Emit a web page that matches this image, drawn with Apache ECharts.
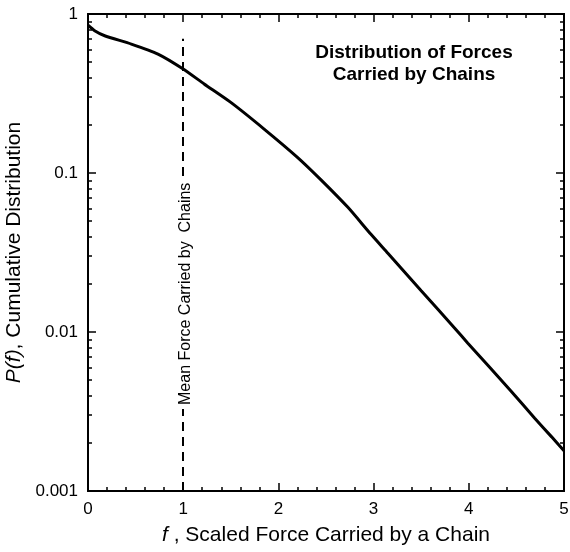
<!DOCTYPE html>
<html>
<head>
<meta charset="utf-8">
<script src="https://cdn.jsdelivr.net/npm/echarts@6/dist/echarts.min.js"></script>
<style>
html,body{margin:0;padding:0;background:#fff;}
#c{width:570px;height:552px;}
</style>
</head>
<body>
<div id="c"></div>
<script>
// Scaled force f (x) and cumulative distribution P(f) (y)
var forceValues = [0, 0.07, 0.175, 0.455, 0.735, 1.0, 1.22, 1.50, 1.85, 2.20, 2.45, 2.73, 2.97, 3.15, 3.50, 3.85, 3.99, 4.20, 4.44, 4.69, 4.87, 5.0];
var cumulativeValues = [0.85, 0.785, 0.73, 0.647, 0.56, 0.451, 0.363, 0.278, 0.189, 0.1255, 0.0902, 0.0608, 0.0413, 0.0313, 0.0182, 0.0106, 0.0085, 0.00617, 0.00427, 0.00288, 0.00219, 0.00179];
var xTickLabels = ['0', '1', '2', '3', '4', '5'];
var yMajorTicks = [0.001, 0.01, 0.1, 1];
var yTickLabels = ['0.001', '0.01', '0.1', '1'];
var yMinorTicks = [];
[0.001, 0.01, 0.1].forEach(function (d) {
  for (var k = 2; k <= 9; k++) yMinorTicks.push(+(d * k).toPrecision(3));
});
var meanForce = 1;
var meanLineRange = [0.001, 0.7];
var titleLines = ['Distribution of Forces', 'Carried by Chains'];
var meanLabel = 'Mean Force Carried by  Chains';

var FONT = 'Liberation Sans, Arial, sans-serif';
var chart = echarts.init(document.getElementById('c'), null, {renderer: 'canvas'});
var data = forceValues.map(function (f, i) { return [f, cumulativeValues[i]]; });

var baseX = {
  type: 'value', min: 0, max: 5, interval: 1,
  axisLine: {show: true, onZero: false, lineStyle: {color: '#000', width: 2}},
  axisTick: {show: true, inside: true, length: 8, lineStyle: {color: '#000', width: 1.5}},
  minorTick: {show: true, splitNumber: 5, length: 4, lineStyle: {color: '#000', width: 1.5}},
  splitLine: {show: false}, minorSplitLine: {show: false}
};
function yAx(pos, ticks, len, labels) {
  return {
    type: 'log', logBase: 10, min: 0.001, max: 1, position: pos,
    axisLine: {show: true, lineStyle: {color: '#000', width: 2}},
    axisTick: {show: true, inside: true, length: len, customValues: ticks, lineStyle: {color: '#000', width: 1.5}},
    axisLabel: labels ? {
      show: true, customValues: yMajorTicks, color: '#000', fontSize: 17, fontFamily: FONT, margin: 10,
      formatter: function (v) { var i = yMajorTicks.indexOf(v); return i >= 0 ? yTickLabels[i] : ''; }
    } : {show: false},
    splitLine: {show: false}
  };
}

var yAxis0 = yAx('left', yMajorTicks, 8, true);
yAxis0.name = '{i|P(f)}, Cumulative Distribution';
yAxis0.nameLocation = 'middle';
yAxis0.nameGap = 50;
yAxis0.nameTextStyle = {color: '#000', fontSize: 21, fontFamily: FONT,
  rich: {i: {fontStyle: 'italic', fontSize: 21, fontFamily: FONT, color: '#000'}}};

var xAxis0 = Object.assign({}, baseX, {
  position: 'bottom',
  axisLabel: {show: true, color: '#000', fontSize: 17, fontFamily: FONT, margin: 10,
    formatter: function (v) { return xTickLabels[Math.round(v)]; }},
  name: '{i|f} , Scaled Force Carried by a Chain',
  nameLocation: 'middle', nameGap: 34,
  nameTextStyle: {color: '#000', fontSize: 21, fontFamily: FONT,
    rich: {i: {fontStyle: 'italic', fontSize: 21, fontFamily: FONT, color: '#000'}}}
});
var xAxis1 = Object.assign({}, baseX, {position: 'top', axisLabel: {show: false}});

chart.setOption({
  animation: false,
  backgroundColor: '#fff',
  grid: {left: 88, right: 6, top: 14, bottom: 61, containLabel: false, outerBoundsMode: 'none'},
  xAxis: [xAxis0, xAxis1],
  yAxis: [yAxis0, yAx('left', yMinorTicks, 4, false), yAx('right', yMajorTicks, 8, false), yAx('right', yMinorTicks, 4, false)],
  graphic: [{
    type: 'text', x: 414, y: 42,
    style: {text: titleLines.join('\n'), fill: '#000', font: 'bold 19px ' + FONT, textAlign: 'center', lineHeight: 22}
  }],
  series: [{
    type: 'line', xAxisIndex: 0, yAxisIndex: 0, data: data,
    showSymbol: false, smooth: 0.2,
    lineStyle: {color: '#000', width: 3},
    markLine: {
      silent: true, symbol: ['none', 'none'],
      lineStyle: {color: '#000', width: 2, type: [9, 6]},
      label: {show: true, position: 'middle', formatter: meanLabel, color: '#000', fontSize: 16, fontFamily: FONT,
        backgroundColor: '#fff', padding: [4, 4], offset: [-34, 14]},
      data: [[{coord: [meanForce, meanLineRange[0]]}, {coord: [meanForce, meanLineRange[1]]}]]
    }
  }]
});
</script>
</body>
</html>
